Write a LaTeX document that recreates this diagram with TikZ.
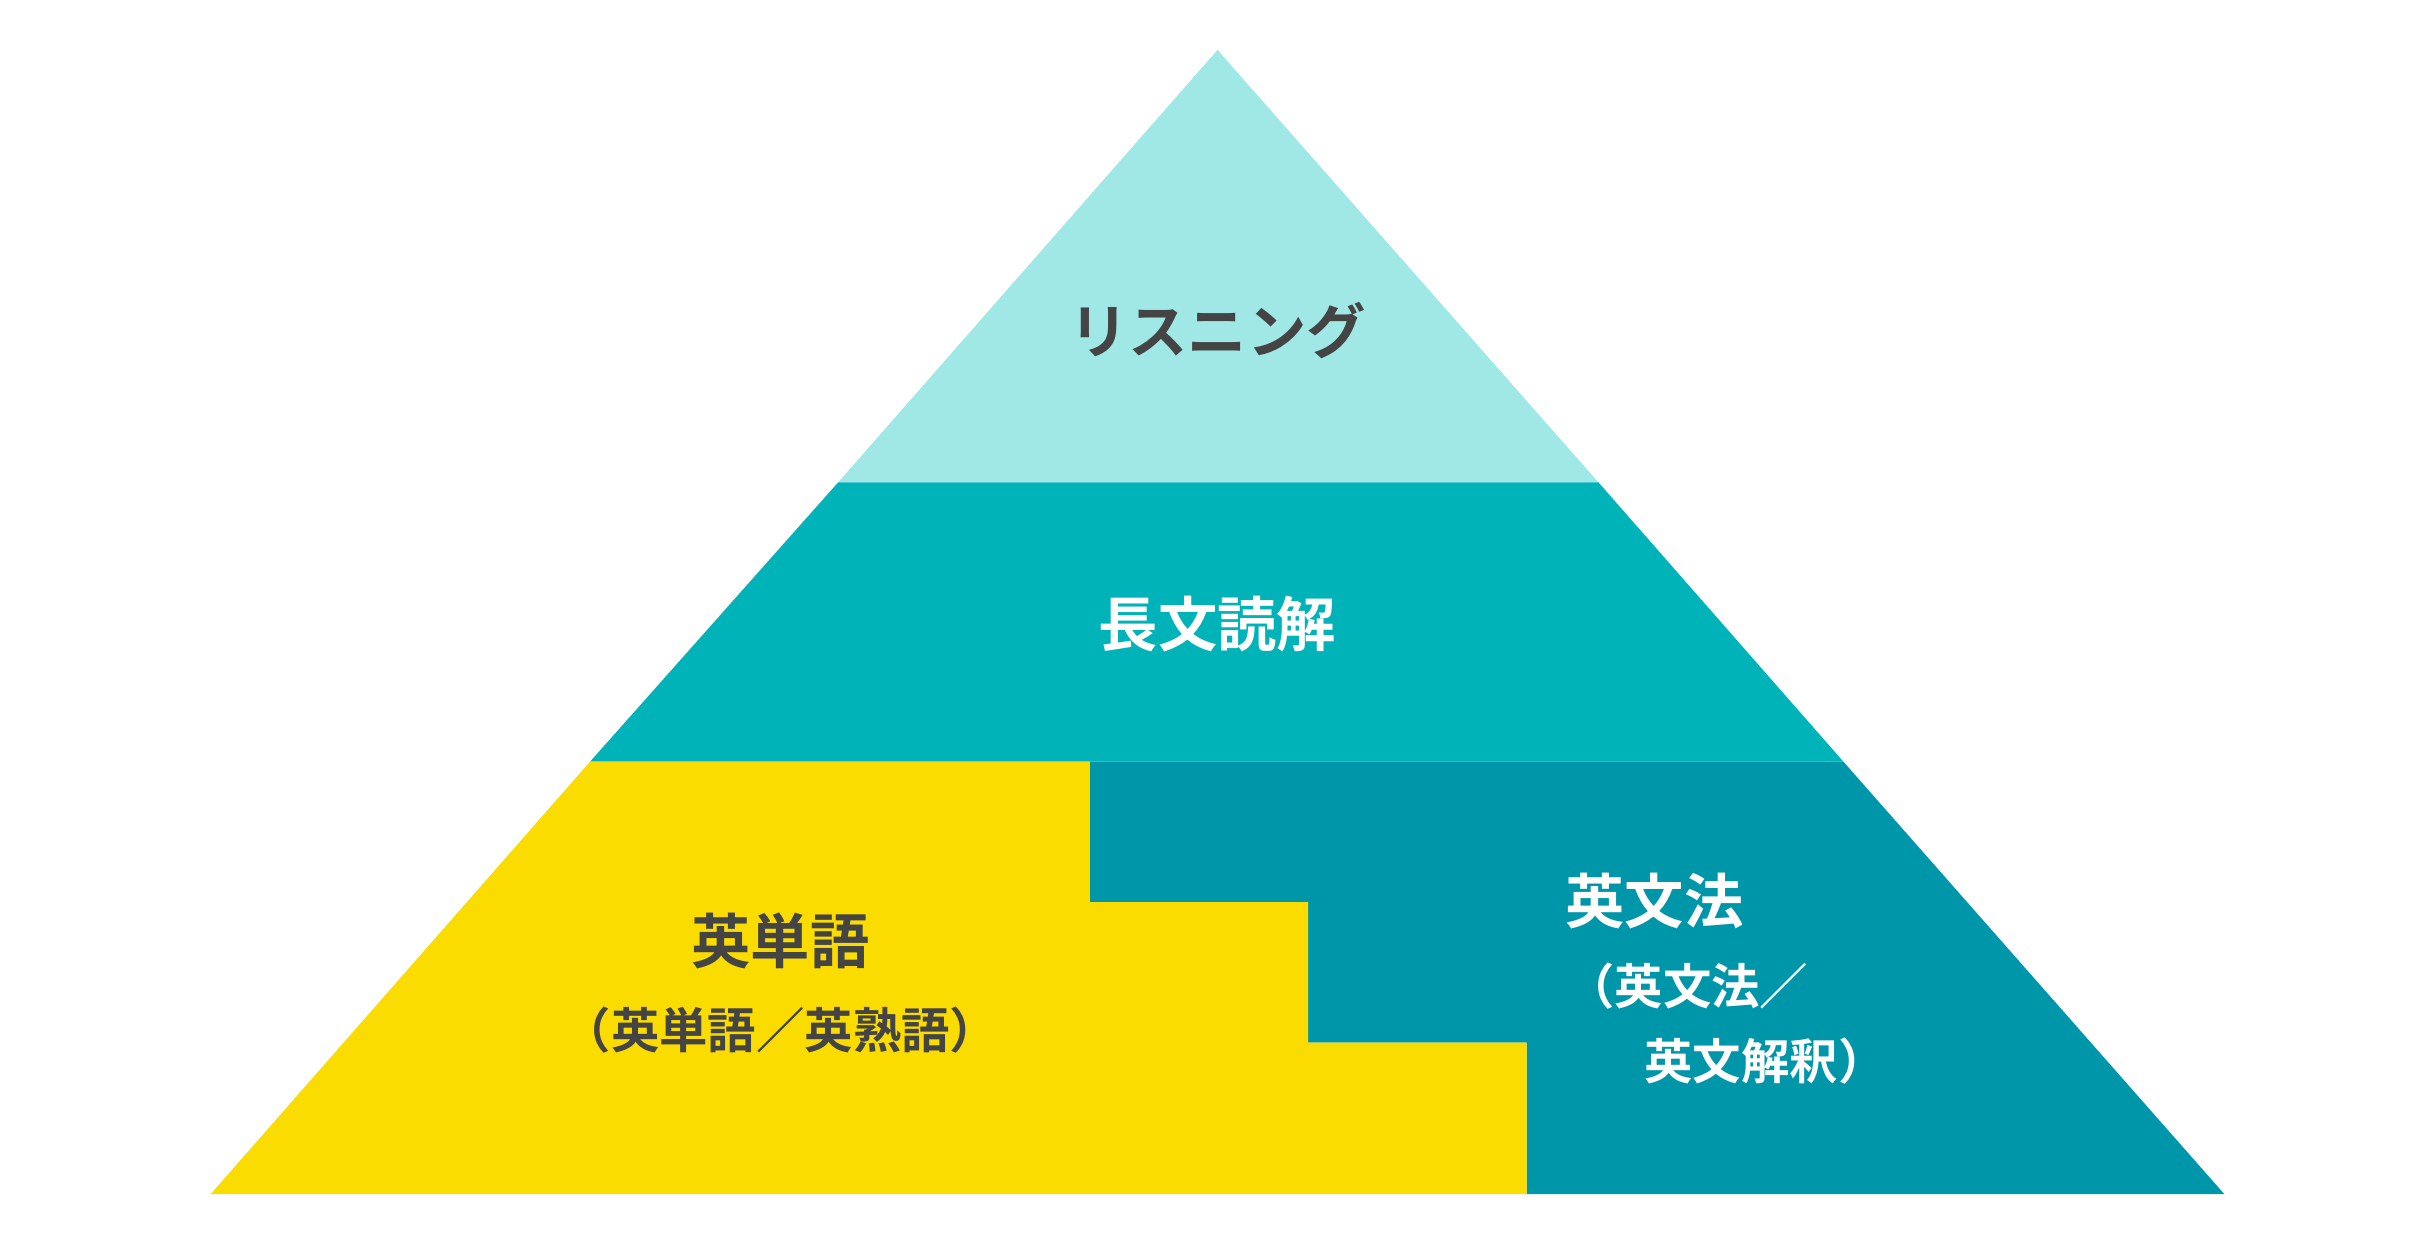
\documentclass[tikz,border=0pt]{standalone}
\usepackage{fontspec}
\newfontfamily\cjk{Noto Sans CJK JP Bold}
\definecolor{cLight}{HTML}{A0E8E6}
\definecolor{cMid}{HTML}{00B3B8}
\definecolor{cDark}{HTML}{0096AA}
\definecolor{cYel}{HTML}{FBDC00}
\definecolor{cTxt}{HTML}{444444}
\begin{document}
\begin{tikzpicture}[x=1pt,y=-1pt,
  ttl/.style={font=\cjk\fontsize{38}{44}\selectfont},
  sub/.style={font=\cjk\fontsize{31}{40}\selectfont}]
\useasboundingbox (0,0) rectangle (1560,792);
\fill[cLight] (780,32) -- (1024,309) -- (537,309) -- cycle;
\fill[cMid] (537,309) -- (1024,309) -- (1181,488) -- (378,488) -- cycle;
\fill[cDark] (698,488) -- (1181,488) -- (1425,765) -- (978,765) -- (978,668) -- (838,668) -- (838,578) -- (698,578) -- cycle;
\fill[cYel] (378,488) -- (698,488) -- (698,578) -- (838,578) -- (838,668) -- (978,668) -- (978,765) -- (135,765) -- cycle;
\node[ttl,text=cTxt] (t1) at (780,212) {リスニング};
\node[ttl,text=white] (t2) at (780,400) {長文読解};
\node[ttl,text=cTxt] (t3) at (500,603) {英単語};
\node[sub,text=cTxt] (t3s) at (500,660) {（英単語／英熟語）};
\node[ttl,text=white] (t4) at (1060,577) {英文法};
\node[sub,text=white,anchor=west] (t4s) at (1000,632) {（英文法／};
\node[sub,text=white,anchor=west] (t4t) at (1050,680) {英文解釈）};
\end{tikzpicture}
\end{document}
